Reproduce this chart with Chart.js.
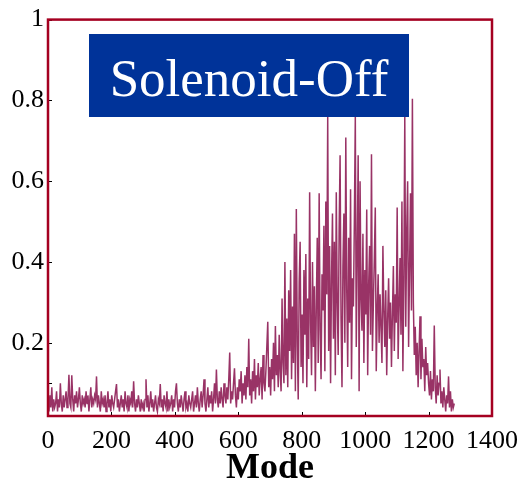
<!DOCTYPE html>
<html>
<head>
<meta charset="utf-8">
<script src="https://cdn.jsdelivr.net/npm/chart.js@4.4.1/dist/chart.umd.min.js"></script>
<style>
  html, body { margin: 0; padding: 0; background: #fff; }
  #wrap { width: 528px; height: 485px; }
</style>
</head>
<body>
<div id="wrap"><canvas id="chart"></canvas></div>
<script>
// series is sampled every 3 modes
const modeStep = 3;

// amplitude, modes 0..147
const amp0 = [0.05,0.03,0.07,0.04,0.09,0.03,0.06,0.04,0.05,0.08,
  0.03,0.06,0.04,0.10,0.05,0.03,0.07,0.04,0.06,0.08,
  0.04,0.06,0.121,0.05,0.04,0.12,0.06,0.03,0.07,0.05,
  0.08,0.04,0.06,0.09,0.05,0.03,0.07,0.05,0.06,0.04,
  0.08,0.05,0.07,0.03,0.06,0.09,0.04,0.06,0.05,0.07];
// modes 150..297
const amp150 = [0.06,0.117,0.04,0.07,0.05,0.03,0.08,0.05,0.06,0.04,
  0.07,0.03,0.05,0.08,0.04,0.06,0.03,0.07,0.05,0.04,
  0.06,0.08,0.098,0.04,0.06,0.03,0.05,0.07,0.04,0.06,
  0.03,0.08,0.05,0.04,0.07,0.03,0.06,0.05,0.08,0.04,
  0.105,0.05,0.03,0.06,0.04,0.07,0.05,0.03,0.06,0.04];
// modes 300..447
const amp300 = [0.05,0.03,0.06,0.11,0.04,0.07,0.03,0.05,0.08,0.04,
  0.06,0.03,0.05,0.07,0.04,0.03,0.06,0.05,0.098,0.04,
  0.06,0.03,0.07,0.05,0.04,0.08,0.03,0.06,0.04,0.05,
  0.07,0.03,0.06,0.04,0.08,0.10,0.05,0.03,0.06,0.04,
  0.07,0.05,0.03,0.06,0.08,0.04,0.05,0.03,0.07,0.05];
// modes 450..597
const amp450 = [0.04,0.06,0.08,0.03,0.05,0.07,0.04,0.09,0.05,0.03,
  0.06,0.08,0.04,0.07,0.11,0.05,0.03,0.06,0.09,0.04,
  0.07,0.05,0.08,0.03,0.06,0.10,0.05,0.134,0.06,0.04,
  0.08,0.05,0.09,0.06,0.04,0.10,0.07,0.05,0.09,0.06,
  0.11,0.176,0.05,0.08,0.06,0.10,0.137,0.07,0.04,0.09];
// modes 600..747
const amp600 = [0.06,0.11,0.08,0.13,0.05,0.10,0.07,0.12,0.06,0.14,
  0.09,0.21,0.07,0.11,0.05,0.13,0.08,0.16,0.06,0.12,
  0.09,0.15,0.07,0.11,0.14,0.06,0.17,0.10,0.08,0.13,
  0.19,0.252,0.09,0.14,0.07,0.16,0.11,0.20,0.08,0.242,
  0.12,0.17,0.09,0.22,0.13,0.08,0.31,0.15,0.10,0.40];
// modes 750..897
const amp750 = [0.12,0.26,0.09,0.33,0.18,0.38,0.11,0.29,0.15,0.47,
  0.08,0.531,0.20,0.06,0.35,0.45,0.14,0.27,0.10,0.38,
  0.22,0.42,0.09,0.31,0.16,0.573,0.25,0.12,0.40,0.19,
  0.34,0.08,0.29,0.46,0.15,0.57,0.23,0.11,0.37,0.28,
  0.49,0.13,0.55,0.32,0.76,0.18,0.44,0.10,0.36,0.52];
// modes 900..1047
const amp900 = [0.21,0.45,0.12,0.573,0.30,0.17,0.48,0.664,0.26,0.09,
  0.39,0.52,0.20,0.708,0.33,0.14,0.46,0.25,0.58,0.11,
  0.36,0.29,0.50,0.76,0.19,0.42,0.664,0.08,0.60,0.31,
  0.23,0.47,0.15,0.38,0.27,0.53,0.12,0.34,0.44,0.22,
  0.667,0.18,0.30,0.41,0.535,0.13,0.28,0.37,0.20,0.32];
// modes 1050..1197
const amp1050 = [0.24,0.15,0.44,0.28,0.19,0.33,0.12,0.26,0.36,0.21,
  0.30,0.14,0.27,0.39,0.18,0.32,0.25,0.535,0.16,0.29,
  0.41,0.22,0.55,0.13,0.35,0.76,0.24,0.47,0.60,0.19,
  0.38,0.57,0.28,0.804,0.30,0.17,0.24,0.12,0.20,0.09,
  0.18,0.266,0.11,0.21,0.14,0.16,0.08,0.19,0.12,0.15];
// modes 1200..1281
const amp1200 = [0.10,0.07,0.13,0.06,0.11,0.08,0.243,0.09,0.05,0.12,
  0.07,0.10,0.134,0.05,0.08,0.04,0.09,0.06,0.03,0.07,
  0.05,0.117,0.04,0.08,0.03,0.06,0.04,0.05];

const xTicks = [0, 200, 400, 600, 800, 1000, 1200, 1400];
const yTicks = [0.1, 0.2, 0.4, 0.6, 0.8, 1];
const yLabeled = [0.2, 0.4, 0.6, 0.8, 1];

const amps = [].concat(amp0, amp150, amp300, amp450, amp600, amp750,
  amp900, amp1050, amp1200);
const points = amps.map((v, i) => ({ x: i * modeStep, y: v }));

const frameColor = '#a50021';
const serif = '"Liberation Serif", "Times New Roman", serif';

// frame, inward tick marks and the caption box
const framePlugin = {
  id: 'frame',
  afterDatasetsDraw(chart) {
    const { ctx, chartArea: a, scales: { x, y } } = chart;
    ctx.save();
    ctx.strokeStyle = '#000';
    ctx.lineWidth = 1;
    xTicks.forEach(t => {
      const px = Math.round(x.getPixelForValue(t)) + 0.5;
      if (px > a.right - 2) return;
      ctx.beginPath(); ctx.moveTo(px, a.bottom); ctx.lineTo(px, a.bottom - 4); ctx.stroke();
    });
    yTicks.forEach(t => {
      const py = Math.round(y.getPixelForValue(t)) + 0.5;
      ctx.beginPath(); ctx.moveTo(a.left, py); ctx.lineTo(a.left + 4, py); ctx.stroke();
    });
    ctx.strokeStyle = frameColor;
    ctx.lineWidth = 2.5;
    ctx.strokeRect(a.left, a.top, a.right - a.left, a.bottom - a.top);

    ctx.fillStyle = '#003399';
    ctx.fillRect(89, 34, 320, 83);
    ctx.fillStyle = '#fff';
    ctx.font = '53px ' + serif;
    ctx.textAlign = 'center';
    ctx.textBaseline = 'alphabetic';
    ctx.fillText('Solenoid-Off', 249, 96);
    ctx.restore();
  }
};

new Chart(document.getElementById('chart'), {
  type: 'line',
  data: {
    datasets: [{
      data: points,
      borderColor: '#993366',
      borderWidth: 1.5,
      pointRadius: 0,
      tension: 0,
      fill: false
    }]
  },
  options: {
    responsive: true,
    maintainAspectRatio: false,
    animation: false,
    layout: { padding: { top: 9, right: 34, bottom: 0, left: 0 } },
    plugins: { legend: { display: false }, tooltip: { enabled: false } },
    scales: {
      x: {
        type: 'linear',
        min: 0,
        max: 1400,
        grid: { display: false, drawTicks: false },
        border: { display: false },
        afterBuildTicks: s => { s.ticks = xTicks.map(v => ({ value: v })); },
        afterFit: s => { s.height = 69; },
        ticks: {
          autoSkip: false,
          maxRotation: 0,
          padding: 10,
          color: '#000',
          font: { family: serif, size: 26 },
          callback: v => String(v)
        },
        title: {
          display: true,
          text: 'Mode',
          color: '#000',
          font: { family: serif, size: 36, weight: 'bold', lineHeight: 1 },
          padding: { top: 0, bottom: -2 }
        }
      },
      y: {
        min: 0.019,
        max: 1,
        grid: { display: false, drawTicks: false },
        border: { display: false },
        afterBuildTicks: s => { s.ticks = yTicks.map(v => ({ value: v })); },
        afterFit: s => { s.width = 48; },
        ticks: {
          autoSkip: false,
          padding: 4,
          labelOffset: 0,
          color: '#000',
          font: { family: serif, size: 26 },
          callback: v => yLabeled.includes(v) ? String(v) : ''
        }
      }
    }
  },
  plugins: [framePlugin]
});
</script>
</body>
</html>
